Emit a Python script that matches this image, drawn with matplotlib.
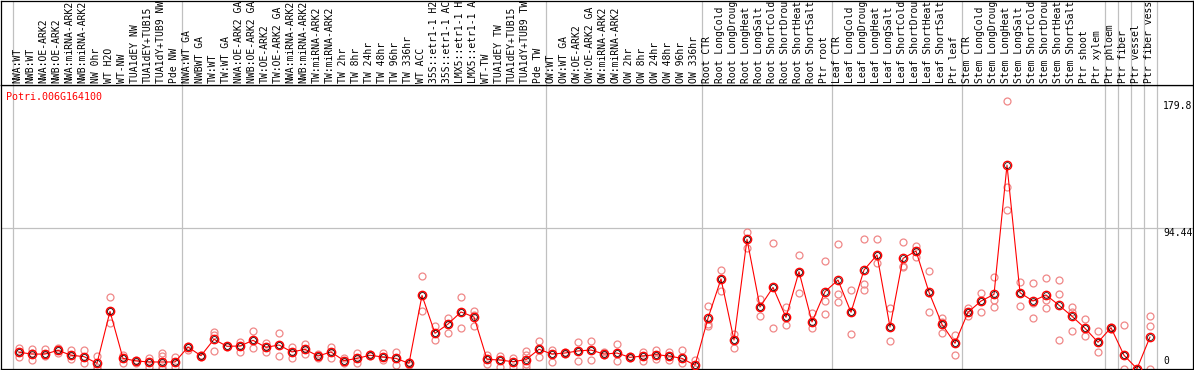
import numpy as np
import matplotlib
matplotlib.use("Agg")
import matplotlib.pyplot as plt

# sample names, as shown (cut to 14 chars)
labels = [
    "NWA:WT", "NWB:WT", "NWA:OE-ARK2", "NWB:OE-ARK2", "NWA:miRNA-ARK2", "NWB:miRNA-ARK2",
    "NW 0hr", "WT H2O", "WT-NW", "TUA1dEY NW", "TUA1dEY+TUB15", "TUA1dY+TUB9 NW", "Pde NW",
    "NWA:WT GA", "NWBWT GA", "TW:WT", "TW:WT GA", "NWA:OE-ARK2 GA", "NWB:OE-ARK2 GA",
    "TW:OE-ARK2", "TW:OE-ARK2 GA", "NWA:miRNA-ARK2", "NWB:miRNA-ARK2", "TW:miRNA-ARK2",
    "TW:miRNA-ARK2", "TW 2hr", "TW 8hr", "TW 24hr", "TW 48hr", "TW 96hr", "TW 336hr",
    "WT ACC", "35S::etr1-1 H2", "35S::etr1-1 AC", "LMX5::etr1-1 H", "LMX5::etr1-1 A",
    "WT-TW", "TUA1dEY TW", "TUA1dEY+TUB15", "TUA1dY+TUB9 TW", "Pde TW",
    "OW:WT", "OW:WT GA", "OW:OE-ARK2", "OW:OE-ARK2 GA", "OW:miRNA-ARK2", "OW:miRNA-ARK2",
    "OW 2hr", "OW 8hr", "OW 24hr", "OW 48hr", "OW 96hr", "OW 336hr",
    "Root CTR", "Root LongCold", "Root LongDroug", "Root LongHeat", "Root LongSalt",
    "Root ShortCold", "Root ShortDrou", "Root ShortHeat", "Root ShortSalt", "Ptr root",
    "Leaf CTR", "Leaf LongCold", "Leaf LongDroug", "Leaf LongHeat", "Leaf LongSalt",
    "Leaf ShortCold", "Leaf ShortDrou", "Leaf ShortHeat", "Leaf ShortSalt", "Ptr leaf",
    "Stem CTR", "Stem LongCold", "Stem LongDroug", "Stem LongHeat", "Stem LongSalt",
    "Stem ShortCold", "Stem ShortDrou", "Stem ShortHeat", "Stem ShortSalt", "Ptr shoot",
    "Ptr xylem", "Ptr phloem", "Ptr fiber", "Ptr vessel", "Ptr fiber vess",
]

means = [
    11.2, 10.0, 10.0, 12.5, 9.2, 8.3, 3.8, 38.6, 7.1, 5.4, 4.7, 4.7, 4.7,
    14.7, 8.9, 19.9, 15.2, 15.4, 19.2, 14.5, 16.1, 11.4, 13.2, 8.7, 11.4, 5.6, 7.1,
    9.2, 8.0, 7.1, 3.8, 49.3, 23.9, 30.1, 38.2, 34.8, 6.5, 6.0, 4.9, 6.3, 13.2,
    10.0, 10.7, 12.1, 12.7, 10.0, 10.7, 7.8, 8.7, 9.6, 8.7, 7.1, 2.5,
    34.0, 60.3, 19.4, 86.9, 41.5, 54.7, 34.6, 65.2, 31.5, 51.8,
    59.6, 38.0, 66.3, 76.4, 28.1, 74.1, 79.0, 51.4, 29.9, 17.2,
    38.0, 45.5, 50.0, 136.6, 51.1, 45.5, 49.6, 42.7, 35.3, 27.3, 17.9,
    27.7, 9.2, 0.2, 21.4,
]

reps = [
    [13.8, 11.2, 7.8], [13.4, 10.5, 6.0], [13.4, 10.0, 8.5], [14.3, 12.5, 10.5],
    [12.7, 9.2, 6.5], [12.7, 8.3, 3.8], [8.7, 1.6, 0.0], [48.0, 38.6, 30.6],
    [9.4, 7.1, 3.8], [6.0, 5.4, 4.3], [7.1, 4.7, 1.6], [10.9, 8.7, 1.6, 0.0],
    [7.8, 4.7, 1.6],
    [15.4, 14.7, 12.7], [9.4, 8.9, 8.3], [24.8, 22.5, 12.1], [15.4, 15.2, 14.5],
    [18.3, 15.4, 11.6], [25.5, 19.2, 13.8], [17.6, 14.5, 11.6], [24.1, 16.1, 8.7],
    [14.9, 11.4, 7.1], [16.7, 13.2, 9.8], [10.0, 8.7, 7.1], [14.9, 11.4, 7.1],
    [7.1, 5.6, 3.8], [10.5, 7.1, 3.8], [10.0, 9.2, 8.5], [10.7, 8.0, 6.0],
    [11.6, 7.1, 2.7], [4.5, 3.8, 3.0], [62.3, 49.3, 38.6], [28.8, 23.9, 19.4],
    [34.4, 30.1, 23.9], [48.0, 38.2, 27.3], [39.1, 36.5, 28.8], [9.4, 6.5, 3.6],
    [8.7, 6.0, 1.6], [7.1, 4.9, 1.6], [12.3, 9.4, 3.6, 1.6], [18.8, 13.2, 8.3],
    [12.7, 10.0, 4.9], [11.2, 10.7, 10.0], [18.1, 12.1, 5.4], [18.8, 12.7, 6.0],
    [11.2, 10.0, 9.6], [16.7, 10.7, 5.4], [8.7, 7.8, 7.1], [11.6, 8.7, 5.4],
    [12.7, 9.6, 6.5], [11.6, 8.7, 6.0], [12.7, 7.1, 3.8], [6.0, 2.5, 0.0],
    [42.2, 30.0, 28.8], [66.3, 60.3, 52.5], [23.2, 19.4, 14.3], [91.8, 86.9, 81.0],
    [46.9, 41.5, 35.3], [84.4, 54.7, 27.5], [41.7, 34.6, 29.3], [76.4, 65.2, 50.7],
    [37.3, 31.5, 27.7], [72.3, 45.7, 36.6],
    [83.7, 50.0, 45.1], [52.9, 38.0, 23.2], [87.1, 56.9, 53.0], [87.1, 76.4, 70.8],
    [40.9, 28.1, 18.8], [85.3, 69.0, 68.5], [82.6, 79.0, 75.2], [65.6, 51.0, 38.2],
    [34.4, 31.4, 23.9], [22.8, 17.2, 9.4],
    [40.6, 38.0, 35.5], [50.7, 45.5, 38.0], [61.6, 46.5, 41.7], [179.8, 121.7, 106.3],
    [58.3, 51.1, 42.0], [57.6, 44.5, 34.0], [60.7, 46.5, 41.1], [59.6, 50.2, 19.4],
    [41.7, 38.5, 25.5], [33.5, 27.3, 22.3], [25.5, 17.9, 11.2],
    [28.4, 27.7, 27.0], [29.3, 9.2, 0.2], [0.2, 0.0, 0.0], [35.3, 28.6, 0.0],
]

# where sample groups start
group_starts = [0, 13, 41, 53, 63, 73, 84, 85, 86, 87, 88]
gene = "Potri.006G164100"
ymax = 179.8
ymid = 94.44

W, H = 1194, 370
fig = plt.figure(figsize=(W / 100, H / 100), dpi=100)

# pixel layout: points at 19 + 13*i, plot from y=85 to y=369
px0, px1 = 1, 1193
top_y, bot_y = 85, 369
xlo = (px0 - 19) / 13
xhi = (px1 - 19) / 13
unit = 141 / 94.44
ytop = (bot_y - top_y) / unit

ax = fig.add_axes([px0 / W, (H - bot_y) / H, (px1 - px0) / W, (bot_y - top_y) / H])
lab = fig.add_axes([px0 / W, (H - top_y) / H, (px1 - px0) / W, (top_y - 0.5) / H])

mono = "DejaVu Sans Mono"
x = np.arange(len(labels))

for a in (ax, lab):
    a.set_xlim(xlo, xhi)
    a.set_xticks([])
    a.set_yticks([])
    for s in a.spines.values():
        s.set_linewidth(0.9)
        s.set_color("black")
    for g in group_starts:
        a.axvline(g - 0.5, color="#c0c0c0", lw=0.9, zorder=0)

ax.set_ylim(0, ytop)
lab.set_ylim(0, 1)

ax.axhline(ymid, color="#c0c0c0", lw=0.9, zorder=0)

# replicates
for i, r in enumerate(reps):
    ax.plot([i] * len(r), r, "o", ms=5, mfc="none", mec="#f08888", mew=0.9, zorder=2)

# means
ax.plot(x, means, "-", color="red", lw=0.8, zorder=3)
ax.plot(x, means, "o", ms=6, mfc="none", mec="red", mew=1.0, zorder=4)
ax.plot(x, means, "o", ms=4.2, mfc="none", mec="black", mew=0.5, zorder=5)

# right side value labels
tx = (1163 - 19) / 13
ax.text(tx, ymax, "179.8", family=mono, fontsize=7, va="top", ha="left")
ax.text(tx, ymid, "94.44", family=mono, fontsize=7, va="top", ha="left")
ax.text(tx, 2, "0", family=mono, fontsize=7, va="bottom", ha="left")

ax.text(-1.0, ytop - 5, gene, family=mono, fontsize=7.2, color="red", va="top", ha="left")

for i, name in enumerate(labels):
    lab.text(i - 0.1, 0.025, name, family=mono, fontsize=7, rotation=90,
             ha="center", va="bottom", clip_on=True)

fig.savefig("out.png", dpi=100)
